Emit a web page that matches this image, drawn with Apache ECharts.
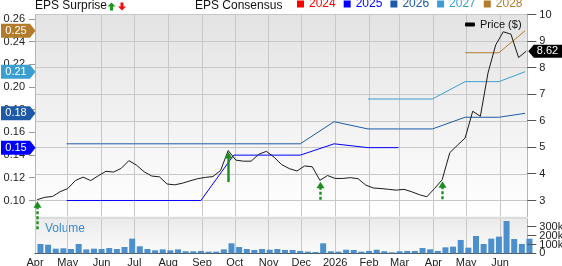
<!DOCTYPE html>
<html><head><meta charset="utf-8">
<script src="https://cdn.jsdelivr.net/npm/echarts@6/dist/echarts.min.js"></script>
<style>html,body{margin:0;padding:0;background:#fff}#c{width:562px;height:266px}</style>
</head><body><div id="c"></div>
<script>
// ---------- DATA ----------
const monthLabels = ['Apr','May','Jun','Jul','Aug','Sep','Oct','Nov','Dec','2026','Feb','Mar','Apr','May','Jun'];
const monthTickDates = ['2025-04-01','2025-05-01','2025-06-01','2025-07-01','2025-08-01','2025-09-01','2025-10-01','2025-11-01','2025-12-01','2026-01-01','2026-02-01','2026-03-01','2026-04-01','2026-05-01','2026-06-01'];
const xRange = ['2025-04-01','2026-06-26'];

const priceTicks = [3,4,5,6,7,8,9,10];
const epsTicks = [0.10,0.12,0.14,0.16,0.18,0.20,0.22,0.24,0.26];
const volumeTicks = [0,100000,200000,300000];
const volumeTickLabels = ['0','100k','200k','300k'];

const priceStart = '2025-04-03'; // weekly points
const priceValues = [3.03,3.12,3.15,3.33,3.45,3.75,3.88,3.75,3.93,4.10,4.07,4.21,4.50,4.33,4.08,3.92,3.89,3.62,3.59,3.65,
  3.74,3.82,3.87,3.90,4.13,4.88,4.52,4.48,4.48,4.74,4.85,4.63,4.35,4.20,4.11,4.30,4.27,3.76,3.94,3.83,
  3.83,3.86,3.82,3.58,3.47,3.45,3.42,3.39,3.42,3.33,3.22,3.14,3.45,3.78,4.80,5.08,5.35,6.36,6.17,7.80,
  8.85,9.35,9.26,8.38,8.62];

const volumeStart = '2025-04-06'; // weekly bars
const volumeValuesK = [106,98,53,57,49,106,45,53,49,60,49,72,167,80,49,34,45,34,45,23,
  23,27,19,19,45,114,72,49,38,49,41,49,38,38,27,19,15,114,23,19,
  41,38,19,27,41,23,11,23,27,27,60,45,27,68,76,152,64,197,106,167,
  190,368,163,106,167];

const eps2024Dates = [];
const eps2024Values = [];
const eps2025Dates = ['2025-04-30','2025-05-31','2025-06-30','2025-07-31','2025-08-31','2025-09-30','2025-10-31','2025-11-30','2025-12-31','2026-01-31','2026-02-28'];
const eps2025Values = [0.100,0.100,0.100,0.100,0.100,0.140,0.140,0.140,0.150,0.1466,0.1466];
const eps2026Dates = ['2025-04-30','2025-05-31','2025-06-30','2025-07-31','2025-08-31','2025-09-30','2025-10-31','2025-11-30','2025-12-31','2026-01-31','2026-02-28','2026-03-31','2026-04-30','2026-05-31','2026-06-24'];
const eps2026Values = [0.150,0.150,0.150,0.150,0.150,0.150,0.150,0.150,0.1695,0.1631,0.1631,0.1631,0.1734,0.1734,0.1769];
const eps2027Dates = ['2026-01-31','2026-02-28','2026-03-31','2026-04-30','2026-05-31','2026-06-24'];
const eps2027Values = [0.1895,0.1895,0.1895,0.2048,0.2048,0.2136];
const eps2028Dates = ['2026-04-30','2026-05-31','2026-06-24'];
const eps2028Values = [0.2303,0.2303,0.2497];

const surpriseDates = ['2025-04-03','2025-09-25','2025-12-18','2026-04-09'];

// ---------- STYLE ----------
const FONT = 'Liberation Sans, Arial, sans-serif';
const yearColors = {'2024':'#ff0000','2025':'#0000ff','2026':'#1e5aa8','2027':'#3a9fd0','2028':'#b27c2c'};
const arrowLen = [29, 30, 19, 19];
const arrowDashed = [true, false, true, true];
const GREEN = '#1e8c1e';
const GRID_COLOR = '#c8c8c8';

// ---------- HELPERS ----------
function ts(s){ const [y,m,d] = s.split('-').map(Number); return new Date(y, m-1, d).getTime(); }
function weekly(start, n){ const t0 = new Date(ts(start)); const out=[]; for(let i=0;i<n;i++){ const d=new Date(t0); d.setDate(d.getDate()+7*i); out.push(d.getTime()); } return out; }
function pairs(dates, vals){ return dates.map((d,i)=>[ts(d), vals[i]]); }

const monthTs = monthTickDates.map(ts);
const priceDates = weekly(priceStart, priceValues.length);
const volDates = weekly(volumeStart, volumeValuesK.length);
const priceData = priceDates.map((t,i)=>[t, priceValues[i]]);
const volData = volDates.map((t,i)=>[t, volumeValuesK[i]*1000]);
const arrowData = surpriseDates.map((d,i)=>{ const t = ts(d); const k = priceDates.indexOf(t); return [t, priceValues[k], arrowLen[i], arrowDashed[i]?1:0]; });

const xMin = ts(xRange[0]), xMax = ts(xRange[1]);
const GL = 35, GR = 34.7, G0T = 14.5, G0B = 216.5, G1T = 219, G1B = 253.3;
const XR = 562 - GR;
const priceMin = 2.3978, priceMax = 10;
const epsMin = 0.08589, epsMax = 0.26402;
const volMax = 391000;

function monthLabel(v){ const i = monthTs.findIndex(t=>Math.abs(t-v) < 36e5*12); return i>=0 ? monthLabels[i] : ''; }

const chart = echarts.init(document.getElementById('c'), null, {renderer:'canvas'});

function epsSeries(name, dates, vals){
  return {name, type:'line', xAxisIndex:0, yAxisIndex:0, data:pairs(dates, vals), showSymbol:false, symbol:'none',
    lineStyle:{color:yearColors[name], width:1}, itemStyle:{color:yearColors[name]}, z:3, silent:true};
}
const labelCommon = {fontSize:11, color:'#222', fontFamily:FONT, hideOverlap:false, showMinLabel:true, showMaxLabel:true};

const bgPrice = new echarts.graphic.LinearGradient(0,0,0,1,[{offset:0,color:'#e3e3e3'},{offset:1,color:'#ffffff'}]);
const bgVol = new echarts.graphic.LinearGradient(0,0,0,1,[{offset:0,color:'#ebebeb'},{offset:1,color:'#fbfbfb'}]);

const option = {
  animation:false,
  textStyle:{fontFamily:FONT},
  grid:[
    {left:GL, right:GR, top:G0T, height:G0B-G0T, show:true, backgroundColor:bgPrice, borderWidth:0, containLabel:false, outerBoundsMode:'none'},
    {left:GL, right:GR, top:G1T, height:G1B-G1T, show:true, backgroundColor:bgVol, borderWidth:0, containLabel:false, outerBoundsMode:'none'}
  ],
  legend:[
    {data:[{name:'2024',textStyle:{color:yearColors['2024']}},{name:'2025',textStyle:{color:yearColors['2025']}},{name:'2026',textStyle:{color:yearColors['2026']}},{name:'2027',textStyle:{color:yearColors['2027']}},{name:'2028',textStyle:{color:yearColors['2028']}}],
     left:297, top:-2, padding:0, itemWidth:7, itemHeight:7, itemGap:8, icon:'rect', selectedMode:false,
     textStyle:{fontSize:12, fontFamily:FONT}},
    {data:['Price ($)'], left:465, top:19, padding:0, itemWidth:10, itemHeight:4, icon:'roundRect', selectedMode:false,
     textStyle:{fontSize:11, color:'#111', fontFamily:FONT}}
  ],
  xAxis:[
    {type:'value', gridIndex:0, min:xMin, max:xMax, axisLine:{show:false}, axisLabel:{show:false},
     axisTick:{show:false, customValues:monthTs}, splitLine:{show:true, lineStyle:{color:GRID_COLOR, width:1}}},
    {type:'value', gridIndex:1, min:xMin, max:xMax, axisLine:{show:true, lineStyle:{color:'#555', width:1}},
     axisTick:{show:false, customValues:monthTs},
     axisLabel:Object.assign({show:true, customValues:monthTs, formatter:monthLabel, margin:4}, labelCommon),
     splitLine:{show:true, lineStyle:{color:GRID_COLOR, width:1}}}
  ],
  yAxis:[
    {type:'value', gridIndex:0, position:'left', min:epsMin, max:epsMax,
     axisLine:{show:true, lineStyle:{color:'#b5b5b5'}},
     axisTick:{show:false, customValues:epsTicks},
     axisLabel:Object.assign({show:true, customValues:epsTicks, formatter:v=>v.toFixed(2), margin:10, lineHeight:9}, labelCommon),
     splitLine:{show:false}},
    {type:'value', gridIndex:0, position:'right', min:priceMin, max:priceMax,
     axisLine:{show:true, lineStyle:{color:'#b5b5b5'}},
     axisTick:{show:false, customValues:priceTicks},
     axisLabel:Object.assign({show:true, customValues:priceTicks, margin:12, lineHeight:9}, labelCommon),
     splitLine:{show:true, lineStyle:{color:GRID_COLOR, width:1}}},
    {type:'value', gridIndex:1, position:'right', min:0, max:volMax,
     axisLine:{show:true, lineStyle:{color:'#b5b5b5'}},
     axisTick:{show:false, customValues:volumeTicks},
     axisLabel:{show:false},
     splitLine:{show:false}}
  ],
  series:[
    epsSeries('2024', eps2024Dates, eps2024Values),
    epsSeries('2025', eps2025Dates, eps2025Values),
    epsSeries('2026', eps2026Dates, eps2026Values),
    epsSeries('2027', eps2027Dates, eps2027Values),
    epsSeries('2028', eps2028Dates, eps2028Values),
    {name:'Price ($)', type:'line', xAxisIndex:0, yAxisIndex:1, data:priceData, showSymbol:false, symbol:'none',
     lineStyle:{color:'#1a1a1a', width:1}, itemStyle:{color:'#000'}, z:4, silent:true},
    {name:'Volume', type:'bar', xAxisIndex:1, yAxisIndex:2, data:volData, barWidth:6,
     itemStyle:{color:'#4b8fcd'}, silent:true},
    {name:'surprise', type:'custom', xAxisIndex:0, yAxisIndex:1, data:arrowData, z:5, silent:true, clip:false,
     renderItem:function(params, api){
       const p = api.coord([api.value(0), api.value(1)]);
       const x = Math.round(p[0]) + 0.5, tip = p[1] + 1.5, len = api.value(2), dashed = api.value(3) === 1;
       return {type:'group', children:[
         {type:'line', shape:{x1:x, y1:tip+5, x2:x, y2:tip+len}, style:{stroke:GREEN, lineWidth:2.4, lineDash: dashed ? [3,2] : null}},
         {type:'polygon', shape:{points:[[x, tip],[x-4, tip+6.5],[x+4, tip+6.5]]}, style:{fill:GREEN}}
       ]};
     }}
  ],
  graphic:[
    {type:'rect', shape:{x:GL, y:G0B, width:XR-GL, height:G1T-G0B}, style:{fill:'#dcdcdc'}, silent:true, z:-1},
    {type:'text', x:35, y:6, style:{text:'EPS Surprise', font:'12px '+FONT, fill:'#111', textVerticalAlign:'middle'}},
    {type:'polygon', shape:{points:[[111.5,2.5],[115.5,6.5],[113,6.5],[113,10.5],[110,10.5],[110,6.5],[107.5,6.5]]}, style:{fill:'#1a9a1a'}},
    {type:'polygon', shape:{points:[[122,10.5],[126,6.5],[123.5,6.5],[123.5,2.5],[120.5,2.5],[120.5,6.5],[118,6.5]]}, style:{fill:'#ee1111'}},
    {type:'text', x:195, y:6, style:{text:'EPS Consensus', font:'12px '+FONT, fill:'#111', textVerticalAlign:'middle'}},
    {type:'text', x:45, y:228.5, style:{text:'Volume', font:'12px '+FONT, fill:'#3d8ad0', textVerticalAlign:'middle'}}
  ]
};
chart.setOption(option);

// tick marks and volume labels placed through the axes' own scales
const extra = [];
function crisp(y){ return Math.round(y - 0.5) + 0.5; }
epsTicks.forEach(v=>{ const y = crisp(chart.convertToPixel({yAxisIndex:0}, v)); extra.push({type:'line', z:10, shape:{x1:29, y1:y, x2:GL, y2:y}, style:{stroke:'#999', lineWidth:1}}); });
priceTicks.forEach(v=>{ const y = crisp(chart.convertToPixel({yAxisIndex:1}, v)); extra.push({type:'line', z:10, shape:{x1:XR, y1:y, x2:XR+9, y2:y}, style:{stroke:'#555', lineWidth:1}}); });
volumeTicks.forEach((v,i)=>{
  const yy = chart.convertToPixel({yAxisIndex:2}, v);
  const y = crisp(yy);
  extra.push({type:'line', z:10, shape:{x1:XR, y1:y, x2:XR+9, y2:y}, style:{stroke:'#555', lineWidth:1}});
  extra.push({type:'text', z:10, x:XR+12, y:yy, style:{text:volumeTickLabels[i], font:'11px '+FONT, fill:'#222', textVerticalAlign:'middle'}});
});

// value badges on the axes
const lastEps = [['2028', eps2028Values], ['2027', eps2027Values], ['2026', eps2026Values], ['2025', eps2025Values]];
lastEps.forEach(([yr, vals])=>{
  const v = vals[vals.length-1];
  const c = chart.convertToPixel({yAxisIndex:0}, v);
  extra.push({type:'polygon', z:50, shape:{points:[[1,c-7],[30,c-7],[35.5,c],[30,c+7],[1,c+7]]}, style:{fill:yearColors[yr]}});
  extra.push({type:'text', z:51, x:16, y:c, style:{text:v.toFixed(2), font:'11px '+FONT, fill:'#fff', textAlign:'center', textVerticalAlign:'middle'}});
});
{
  const v = priceValues[priceValues.length-1];
  const c = chart.convertToPixel({yAxisIndex:1}, v);
  extra.push({type:'polygon', z:50, shape:{points:[[XR+1,c],[XR+6.5,c-6.5],[562,c-6.5],[562,c+6.5],[XR+6.5,c+6.5]]}, style:{fill:'#000'}});
  extra.push({type:'text', z:51, x:547.5, y:c, style:{text:v.toFixed(2), font:'11px '+FONT, fill:'#fff', textAlign:'center', textVerticalAlign:'middle'}});
}
chart.setOption({graphic: option.graphic.concat(extra)});
</script>
</body></html>
